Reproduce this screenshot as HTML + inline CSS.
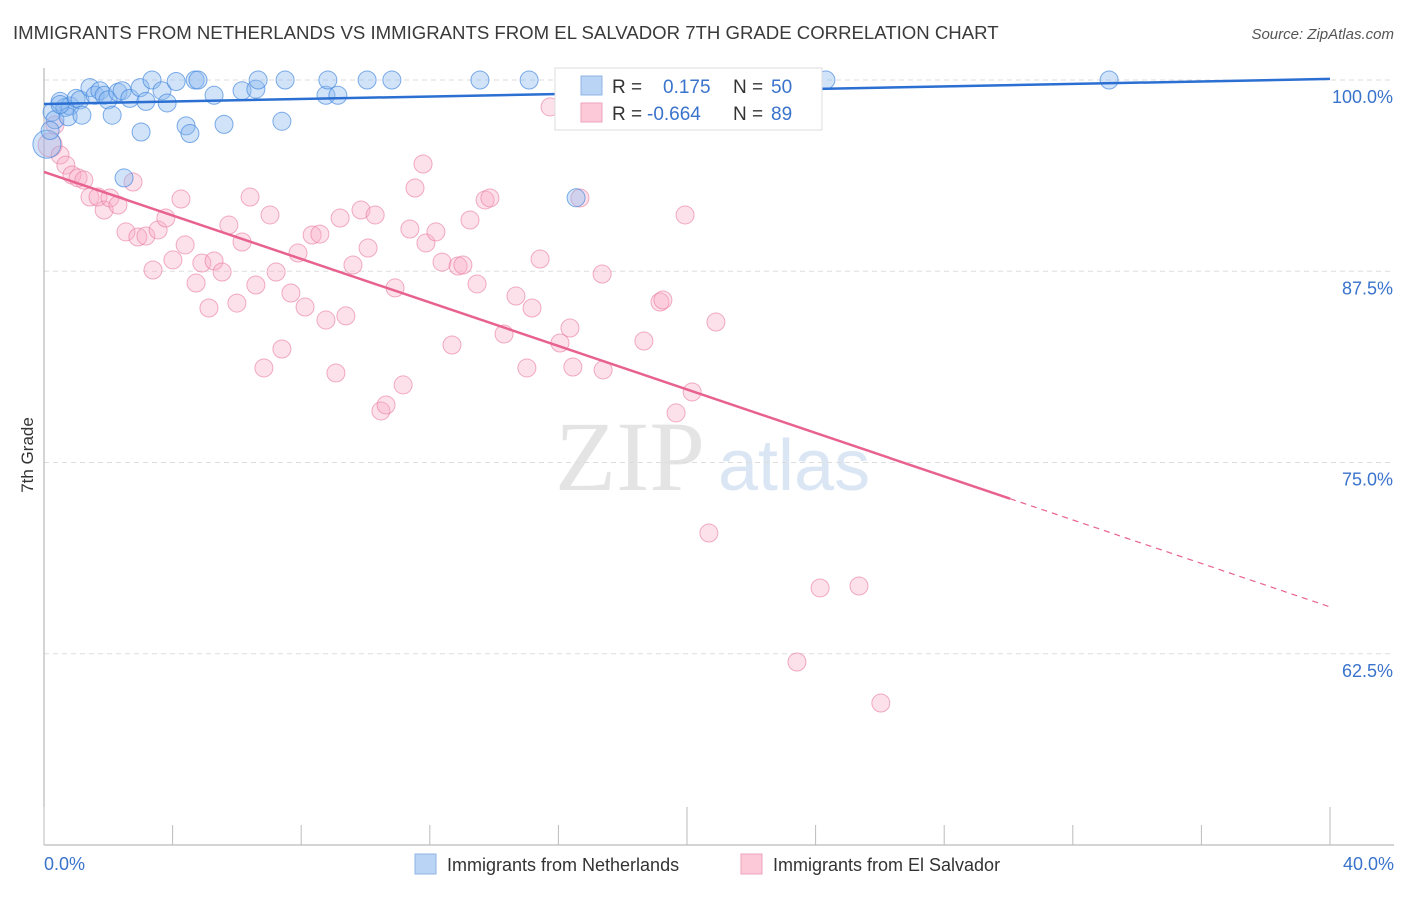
<!DOCTYPE html>
<html><head><meta charset="utf-8"><style>
body{margin:0;background:#fff;font-family:"Liberation Sans",sans-serif}
</style></head><body>
<svg id="chart" width="1406" height="892" xmlns="http://www.w3.org/2000/svg" style="font-family:'Liberation Sans',sans-serif">
<text x="13" y="39" font-size="18.6" fill="#3a3a3a">IMMIGRANTS FROM NETHERLANDS VS IMMIGRANTS FROM EL SALVADOR 7TH GRADE CORRELATION CHART</text>
<text x="1394" y="39" font-size="15" fill="#555" text-anchor="end" font-style="italic">Source: ZipAtlas.com</text>
<text x="555" y="490" font-size="100" fill="#e4e4e4" font-family="Liberation Serif">ZIP</text>
<text x="718" y="490" font-size="72" fill="#dbe6f5">atlas</text>
<text transform="translate(33,455) rotate(-90)" font-size="17" fill="#333" text-anchor="middle">7th Grade</text>
<g id="grid"></g><g id="axes"></g><g id="pts"></g><g id="lines"></g>
<g>
<rect x="555" y="68" width="267" height="62" fill="#fff" stroke="#ddd"/>
<rect x="581" y="76" width="21" height="19" fill="#b9d4f5" stroke="#8fb4e6"/>
<rect x="581" y="103" width="21" height="19" fill="#fbc9d8" stroke="#f0a3bc"/>
<text x="612" y="93" font-size="19" fill="#333">R = </text><text x="663" y="93" font-size="19" fill="#3a73cc">0.175</text>
<text x="733" y="93" font-size="19" fill="#333">N = </text><text x="771" y="93" font-size="19" fill="#3a73cc">50</text>
<text x="612" y="120" font-size="19" fill="#333">R = </text><text x="647" y="120" font-size="19" fill="#3a73cc">-0.664</text>
<text x="733" y="120" font-size="19" fill="#333">N = </text><text x="771" y="120" font-size="19" fill="#3a73cc">89</text>
</g>
<g>
<rect x="415" y="854" width="21" height="20" fill="#b9d4f5" stroke="#8fb4e6"/>
<text x="447" y="871" font-size="18" fill="#333">Immigrants from Netherlands</text>
<rect x="741" y="854" width="21" height="20" fill="#fbc9d8" stroke="#f0a3bc"/>
<text x="773" y="871" font-size="18" fill="#333">Immigrants from El Salvador</text>
</g>
</svg>
<script>
const blueX=[0.25,0.34,0.5,0.65,0.81,1.0,1.12,0.75,1.18,1.43,1.59,1.74,1.87,1.99,2.12,2.3,2.43,2.49,2.67,2.99,3.02,3.17,3.36,3.67,3.83,4.11,4.42,4.54,4.7,4.79,5.29,5.6,6.16,6.59,6.66,7.4,7.5,8.77,8.83,9.14,10.05,10.82,13.56,15.09,16.55,24.32,33.13,0.09,0.19,0.5];
const blueY=[97.9,97.4,98.6,98.2,98.3,98.8,98.7,97.6,97.7,99.5,99.0,99.3,99.0,98.7,97.7,99.2,99.3,93.6,98.8,99.5,96.6,98.6,100,99.3,98.5,99.9,97.0,96.5,100,100,99.0,97.1,99.3,99.4,100,97.3,100,99.0,100,99.0,100,100,100,100,92.3,100,100,95.8,96.7,98.4];
const pinkX=[0.19,0.34,0.5,0.68,0.87,1.06,1.24,1.43,1.68,1.87,2.05,2.3,2.55,2.77,2.92,3.17,3.39,3.55,3.79,4.01,4.26,4.39,4.73,4.91,5.13,5.29,5.54,5.75,6.0,6.16,6.41,6.59,6.84,7.03,7.22,7.4,7.68,7.9,8.12,8.34,8.58,8.77,9.08,9.21,9.39,9.61,9.86,10.08,10.3,10.48,10.64,10.92,11.17,11.38,11.54,11.79,11.88,12.19,12.38,12.69,12.88,13.03,13.25,13.47,13.72,13.87,14.31,14.68,15.02,15.18,15.43,15.74,16.05,16.36,16.45,16.67,17.39,17.36,18.66,19.16,19.25,19.66,19.94,20.16,20.68,20.9,23.42,24.14,25.35,26.03];
const pinkY=[95.75,97.06,95.1,94.44,93.79,93.6,93.46,92.35,92.35,91.5,92.29,91.83,90.07,93.33,89.74,89.8,87.58,90.2,90.98,88.24,92.22,89.22,86.73,88.04,85.1,88.17,87.45,90.52,85.42,89.41,92.35,86.6,81.18,91.18,87.45,82.42,86.08,88.69,85.16,89.87,89.93,84.31,80.85,90.98,84.58,87.91,91.5,89.02,91.18,78.37,78.76,86.41,80.07,90.26,92.94,94.51,89.35,90.07,88.1,82.68,87.84,87.91,90.85,86.67,92.16,92.29,83.4,85.88,81.18,85.1,88.3,98.24,82.81,83.79,81.24,92.29,81.05,87.32,82.94,85.49,85.62,78.24,91.18,79.61,70.39,84.18,61.96,66.8,66.93,59.28];
const yTicks=[100,87.5,75,62.5];
const yTickLabels=["100.0%","87.5%","75.0%","62.5%"];
const xTicks=[0,4,8,12,16,20,24,28,32,36,40];
const blueTrend=[98.43,100.07];
const pinkTrend=[93.99,65.56];
const NS='http://www.w3.org/2000/svg';
const X=v=>44+v*32.15, Y=v=>80+(100-v)*15.3;
function mk(t,a,p){const e=document.createElementNS(NS,t);for(const k in a)e.setAttribute(k,a[k]);document.getElementById(p).appendChild(e);return e;}
yTicks.forEach((t,i)=>{
 const l=mk('line',{x1:44,x2:1394,y1:Y(t),y2:Y(t),stroke:'#ddd','stroke-dasharray':'5,4'},'grid');
 
 
 const tx=mk('text',{x:1393,y:Y(t)+23,'font-size':18,fill:'#3a73cc','text-anchor':'end'},'grid');
 tx.textContent=yTickLabels[i];
 
 
});
let ax=mk('line',{x1:44,x2:44,y1:68,y2:845,stroke:'#aaa'},'axes');


ax=mk('line',{x1:44,x2:1394,y1:845,y2:845,stroke:'#aaa'},'axes');


xTicks.forEach((t,i)=>{
 const big=(i===0||i===5||i===10);
 const l=mk('line',{x1:X(t),x2:X(t),y1:big?807:825,y2:845,stroke:'#bbb'},'axes');
 
 
});
let t0=mk('text',{x:44,y:870,'font-size':18,fill:'#3a73cc'},'axes');t0.textContent='0.0%';


let t1=mk('text',{x:1394,y:870,'font-size':18,fill:'#3a73cc','text-anchor':'end'},'axes');t1.textContent='40.0%';


pinkX.forEach((x,i)=>{
 const c=mk('circle',{cx:X(x),cy:Y(pinkY[i]),r:i===0?12:9,fill:'rgba(248,170,195,0.35)',stroke:'rgba(232,120,160,0.6)','stroke-width':1},'pts');
 
 
});
blueX.forEach((x,i)=>{
 const c=mk('circle',{cx:X(x),cy:Y(blueY[i]),r:i===47?14:9,fill:'rgba(140,185,240,0.4)',stroke:'rgba(60,130,220,0.65)','stroke-width':1},'pts');
 
 
});
let bl=mk('line',{x1:X(0),y1:Y(blueTrend[0]),x2:X(40),y2:Y(blueTrend[1]),stroke:'#2a6fd1','stroke-width':2.5},'lines');


const ps=v=>pinkTrend[0]+(pinkTrend[1]-pinkTrend[0])*v/40;
let pl=mk('line',{x1:X(0),y1:Y(ps(0)),x2:X(30.05),y2:Y(ps(30.05)),stroke:'#e8628f','stroke-width':2.5},'lines');


let pd=mk('line',{x1:X(30.05),y1:Y(ps(30.05)),x2:X(40),y2:Y(ps(40)),stroke:'#e8628f','stroke-width':1.2,'stroke-dasharray':'6,5'},'lines');


</script>
</body></html>
